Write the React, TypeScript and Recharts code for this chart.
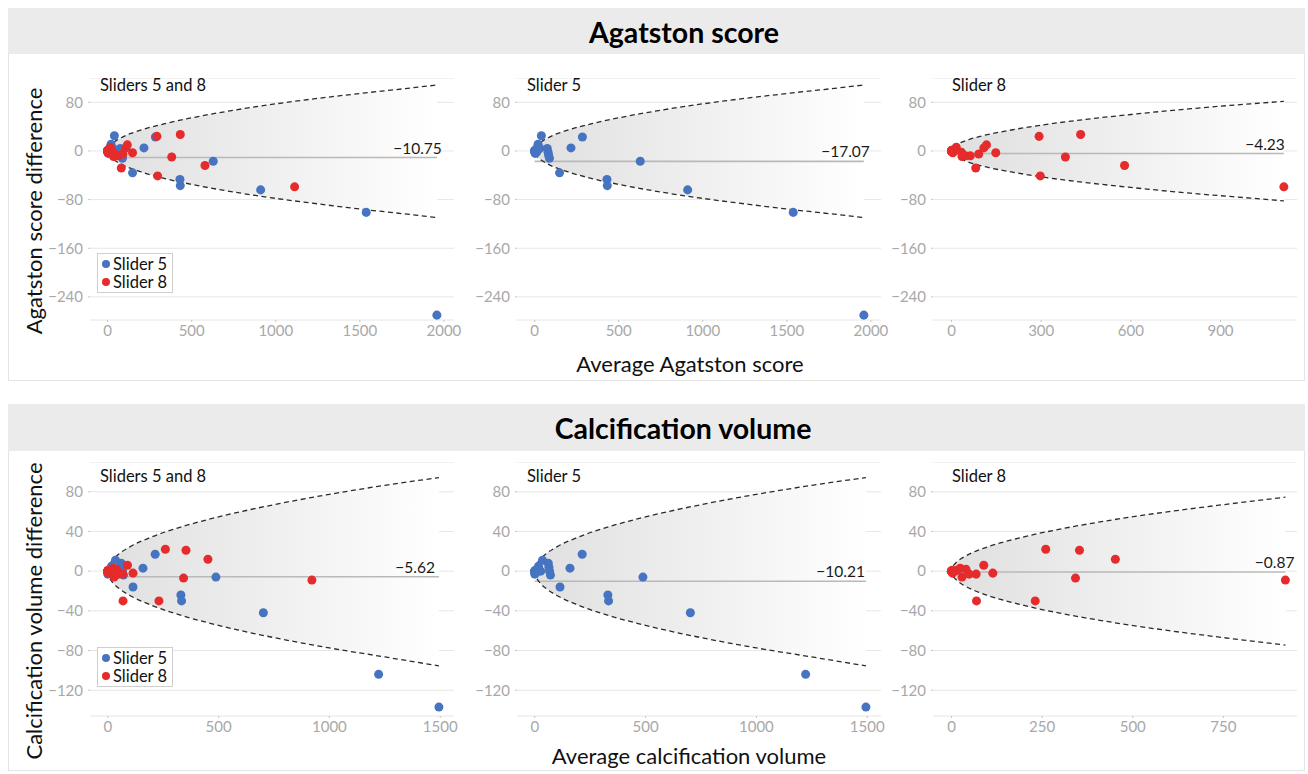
import React from "react";
import { ComposedChart, XAxis, YAxis, CartesianGrid, Area, Line, Scatter } from "recharts";

const FONT = "Lato, 'Noto Sans', sans-serif";
const BLUE = "#4674c1";
const RED = "#e52b2b";

type Pair = [number, number];

// ---- Agatston score: [average, difference] ----
const agatstonSlider5: Pair[] = [
  [0, 0], [0, 0], [0, 0], [0, 0], [0, 0], [0, 0], [1, -1], [2, 0], [3, -4], [5, -2], [6, 2], [8, 1],
  [12, -2], [18, 6], [20, 11], [30, 4], [40, 25], [75, 4], [80, -2], [83, -7], [88, -12],
  [148, -36], [216, 5], [284, 23], [430, -47], [432, -57], [628, -17], [910, -64], [1538, -101], [1958, -270],
];
const agatstonSlider8: Pair[] = [
  [0, 0], [0, 0], [0, 0], [0, 0], [0, 0], [0, 0], [0, 0], [1, 0], [2, -1], [3, 1], [6, -2], [0, 1],
  [4, -3], [16, 6], [33, -2], [35, -9], [47, -8], [63, -8], [81, -28], [91, -5], [108, 5], [117, 10],
  [148, -3], [293, 24], [297, -41], [381, -10], [432, 27], [579, -24], [1112, -59],
];

// ---- Calcification volume: [average, difference] ----
const volumeSlider5: Pair[] = [
  [0, 0], [0, 0], [0, 0], [0, 0], [0, 0], [0, -1], [0, -3], [2, 1], [4, -2], [10, 1], [17, 5], [27, 0],
  [35, 11], [61, 8], [64, 4], [67, 0], [71, -4], [114, -16], [159, 3], [214, 17], [330, -24], [333, -30],
  [488, -6], [702, -42], [1222, -104], [1494, -137],
];
const volumeSlider8: Pair[] = [
  [0, 0], [0, 0], [0, 0], [0, 0], [0, 0], [0, 0], [0, 0], [0, 0], [1, 0], [2, 1], [3, -2], [6, 0], [9, 0],
  [16, 1], [24, 3], [29, -6], [40, 2], [49, -3], [68, -3], [69, -30], [89, 6], [114, -2], [231, -30],
  [260, 22], [342, -7], [353, 21], [452, 12], [921, -9],
];

// ---- Limits of agreement curves ----
const agatstonLimitX = [3, 10, 25, 50, 100, 200, 350, 500, 750, 1000, 1250, 1500, 1750, 1958];
const agatstonUpper = [4, 7.5, 12, 17, 24.5, 34.5, 45.5, 54.5, 67, 77.5, 86.5, 94.5, 102, 108.5];
const agatstonLower = [-4, -7.5, -12, -17, -24.5, -34.5, -46, -55, -67.5, -78, -87, -95.5, -103, -109.5];

const agatston8LimitX = [30, 60, 100, 200, 300, 450, 600, 800, 1000, 1112];
const agatston8Upper = [13.5, 19, 24.5, 34.5, 42.5, 52, 60, 69.5, 77.5, 81.5];
const agatston8Lower = [-13.5, -19, -24.5, -34.5, -42.5, -52, -60, -69.5, -77.5, -82];

const volumeLimitX = [10, 25, 50, 100, 200, 350, 500, 750, 1000, 1250, 1494];
const volumeUpper = [7.7, 12.2, 17.3, 24.5, 34.6, 45.8, 54.7, 67, 77.4, 86.5, 94.3];
const volumeLower = [-7.7, -12.2, -17.3, -24.5, -34.6, -45.8, -54.7, -67, -77.4, -86.5, -95.5];

const volume8LimitX = [5, 15, 30, 60, 100, 200, 300, 450, 600, 750, 921];
const volume8Upper = [5.5, 9.5, 13.4, 19, 24.5, 34.6, 42.4, 52, 60, 67, 74.5];
const volume8Lower = [-5.5, -9.5, -13.4, -19, -24.5, -34.6, -42.4, -52, -60, -67, -74.5];

// ---- Means ----
const agatstonMeans = { both: -10.75, s5: -17.07, s8: -4.23 };
const volumeMeans = { both: -5.62, s5: -10.21, s8: -0.87 };

// ---- Ticks ----
const agatstonYTicks = [80, 0, -80, -160, -240];
const volumeYTicks = [80, 40, 0, -40, -80, -120];
const agatstonXTicks = [0, 500, 1000, 1500, 2000];
const agatston8XTicks = [0, 300, 600, 900];
const volumeXTicks = [0, 500, 1000, 1500];
const volume8XTicks = [0, 250, 500, 750];

const toPts = (arr: Pair[]) => arr.map(([x, y]) => ({ x, y }));
const toBand = (xs: number[], hi: number[], lo: number[]) =>
  xs.map((x, i) => ({ x, hi: hi[i], lo: lo[i], range: [lo[i], hi[i]] }));
const minus = (v: number) => (v < 0 ? "\u2212" + Math.abs(v) : String(v));
const fmtMean = (v: number) => (v < 0 ? "\u2212" + Math.abs(v).toFixed(2) : v.toFixed(2));

const YW = 60;
const XH = 30;
const PW = 364;
const RM = 22;

interface PanelProps {
  id: string;
  left: number;
  top: number;
  plotH: number;
  xDomain: [number, number];
  xTicks: number[];
  yDomain: [number, number];
  yTicks: number[];
  series: { pts: { x: number; y: number }[]; color: string }[];
  band: { x: number; hi: number; lo: number; range: number[] }[];
  mean: number;
  meanEnd: number;
  labelDx: number;
}

function Panel(p: PanelProps) {
  const meanData = [{ x: 0, y: p.mean }, { x: p.meanEnd, y: p.mean }];
  const labelData = [{ x: p.meanEnd, y: p.mean }];
  const tickStyle = { fill: "#a8a8a8", fontSize: 15, fontFamily: FONT };
  return (
    <div style={{ position: "absolute", left: p.left - YW, top: p.top }}>
      <ComposedChart width={YW + PW + RM} height={p.plotH + XH} margin={{ top: 0, right: RM, bottom: 0, left: 0 }}>
        <defs>
          <linearGradient id={p.id} x1="0" y1="0" x2="1" y2="0">
            <stop offset="0%" stopColor="#e0e0e0" />
            <stop offset="100%" stopColor="#ffffff" />
          </linearGradient>
        </defs>
        <CartesianGrid vertical={false} stroke="#e6e6e6" />
        <XAxis
          type="number"
          dataKey="x"
          domain={p.xDomain}
          ticks={p.xTicks}
          allowDataOverflow
          interval={0}
          axisLine={false}
          tickLine={{ stroke: "#c4c4c4" }}
          tickSize={2}
          tickMargin={3}
          height={XH}
          tick={tickStyle}
        />
        <YAxis
          type="number"
          domain={p.yDomain}
          ticks={p.yTicks}
          allowDataOverflow
          interval={0}
          axisLine={false}
          tickLine={{ stroke: "#c4c4c4" }}
          tickSize={2}
          tickMargin={5}
          width={YW}
          tickFormatter={minus}
          tick={tickStyle}
        />
        <Area data={p.band} dataKey="range" type="monotone" stroke="none" fill={`url(#${p.id})`} fillOpacity={1} isAnimationActive={false} />
        <Line data={meanData} dataKey="y" stroke="#b9b9b9" strokeWidth={1.6} dot={false} isAnimationActive={false} />
        <Line data={p.band} dataKey="hi" type="monotone" stroke="#2a2a2a" strokeWidth={1.3} strokeDasharray="5 3.5" dot={false} isAnimationActive={false} />
        <Line data={p.band} dataKey="lo" type="monotone" stroke="#2a2a2a" strokeWidth={1.3} strokeDasharray="5 3.5" dot={false} isAnimationActive={false} />
        {p.series.map((s, i) => (
          <Scatter key={i} data={s.pts} dataKey="y" fill={s.color} isAnimationActive={false} />
        ))}
        <Scatter
          data={labelData}
          dataKey="y"
          isAnimationActive={false}
          shape={(sp: any) => (
            <text x={sp.cx + p.labelDx} y={sp.cy - 4} textAnchor="end" fontSize={15.5} fill="#1a1a1a" fontFamily={FONT}>
              {fmtMean(p.mean)}
            </text>
          )}
        />
      </ComposedChart>
    </div>
  );
}

const abs = (l: number, t: number, extra: React.CSSProperties = {}): React.CSSProperties => ({
  position: "absolute",
  left: l,
  top: t,
  ...extra,
});

function Legend({ top }: { top: number }) {
  return (
    <div
      style={abs(97, top, {
        width: 76,
        height: 40,
        border: "1px solid #cfcfcf",
        background: "#fff",
        fontFamily: FONT,
        fontSize: 16.5,
        color: "#111",
        lineHeight: "18px",
        paddingTop: 1,
        boxSizing: "border-box",
      })}
    >
      {[
        ["Slider 5", BLUE],
        ["Slider 8", RED],
      ].map(([t, c]) => (
        <div key={t} style={{ display: "flex", alignItems: "center", paddingLeft: 4 }}>
          <span style={{ width: 8, height: 8, borderRadius: 4, background: c, display: "inline-block", marginRight: 3 }} />
          {t}
        </div>
      ))}
    </div>
  );
}

const TOP_ROW = 78;
const TOP_H = 242;
const BOT_ROW = 462;
const BOT_H = 254;
const COLS = [90, 517, 933];

export default function App() {
  const ag5 = toPts(agatstonSlider5);
  const ag8 = toPts(agatstonSlider8);
  const v5 = toPts(volumeSlider5);
  const v8 = toPts(volumeSlider8);
  const agBand = toBand(agatstonLimitX, agatstonUpper, agatstonLower);
  const ag8Band = toBand(agatston8LimitX, agatston8Upper, agatston8Lower);
  const vBand = toBand(volumeLimitX, volumeUpper, volumeLower);
  const v8Band = toBand(volume8LimitX, volume8Upper, volume8Lower);

  const agY: [number, number] = [-278, 120];
  const vY: [number, number] = [-146, 110];

  const panelTitle = (text: string, l: number, t: number) => (
    <div style={abs(l, t, { fontFamily: FONT, fontSize: 16.5, color: "#111", lineHeight: "18px", whiteSpace: "nowrap" })}>{text}</div>
  );
  const sectionTitle: React.CSSProperties = {
    width: 500,
    textAlign: "center",
    fontFamily: FONT,
    fontWeight: 700,
    fontSize: 28.5,
    lineHeight: "34px",
    color: "#000",
  };
  const axisTitle: React.CSSProperties = { fontFamily: FONT, fontSize: 22, color: "#111", whiteSpace: "nowrap" };

  return (
    <div style={{ position: "absolute", left: 0, top: 0, width: 1308, height: 774, background: "#fff", overflow: "hidden" }}>
      {/* Section boxes */}
      <div style={abs(8, 8, { width: 1297, height: 373, border: "1px solid #e4e4e4", boxSizing: "border-box" })} />
      <div style={abs(8, 8, { width: 1297, height: 46, background: "#ebebeb" })} />
      <div style={abs(8, 404, { width: 1297, height: 367, border: "1px solid #e4e4e4", boxSizing: "border-box" })} />
      <div style={abs(8, 404, { width: 1297, height: 47, background: "#ebebeb" })} />

      <div style={abs(434, 15, sectionTitle)}>Agatston score</div>
      <div style={abs(433, 411, sectionTitle)}>Calcification volume</div>

      {/* Top row */}
      <Panel id="g1" left={COLS[0]} top={TOP_ROW} plotH={TOP_H} xDomain={[-105, 2060]} xTicks={agatstonXTicks} yDomain={agY} yTicks={agatstonYTicks}
        series={[{ pts: ag5, color: BLUE }, { pts: ag8, color: RED }]} band={agBand} mean={agatstonMeans.both} meanEnd={1958} labelDx={5} />
      <Panel id="g2" left={COLS[1]} top={TOP_ROW} plotH={TOP_H} xDomain={[-105, 2060]} xTicks={agatstonXTicks} yDomain={agY} yTicks={agatstonYTicks}
        series={[{ pts: ag5, color: BLUE }]} band={agBand} mean={agatstonMeans.s5} meanEnd={1958} labelDx={6} />
      <Panel id="g3" left={COLS[2]} top={TOP_ROW} plotH={TOP_H} xDomain={[-62, 1156]} xTicks={agatston8XTicks} yDomain={agY} yTicks={agatstonYTicks}
        series={[{ pts: ag8, color: RED }]} band={ag8Band} mean={agatstonMeans.s8} meanEnd={1112} labelDx={1} />

      {/* Bottom row */}
      <Panel id="g4" left={COLS[0]} top={BOT_ROW} plotH={BOT_H} xDomain={[-80, 1562]} xTicks={volumeXTicks} yDomain={vY} yTicks={volumeYTicks}
        series={[{ pts: v5, color: BLUE }, { pts: v8, color: RED }]} band={vBand} mean={volumeMeans.both} meanEnd={1494} labelDx={-4} />
      <Panel id="g5" left={COLS[1]} top={BOT_ROW} plotH={BOT_H} xDomain={[-80, 1562]} xTicks={volumeXTicks} yDomain={vY} yTicks={volumeYTicks}
        series={[{ pts: v5, color: BLUE }]} band={vBand} mean={volumeMeans.s5} meanEnd={1494} labelDx={-1} />
      <Panel id="g6" left={COLS[2]} top={BOT_ROW} plotH={BOT_H} xDomain={[-51, 953]} xTicks={volume8XTicks} yDomain={vY} yTicks={volumeYTicks}
        series={[{ pts: v8, color: RED }]} band={v8Band} mean={volumeMeans.s8} meanEnd={921} labelDx={9} />

      {/* Panel titles */}
      {panelTitle("Sliders 5 and 8", 100, 76)}
      {panelTitle("Slider 5", 527, 76)}
      {panelTitle("Slider 8", 952, 76)}
      {panelTitle("Sliders 5 and 8", 100, 467)}
      {panelTitle("Slider 5", 527, 467)}
      {panelTitle("Slider 8", 952, 467)}

      <Legend top={253} />
      <Legend top={647} />

      {/* Axis titles */}
      <div style={abs(33, 211, { ...axisTitle, transform: "translate(-50%, -50%) rotate(-90deg)" })}>Agatston score difference</div>
      <div style={abs(33, 611, { ...axisTitle, transform: "translate(-50%, -50%) rotate(-90deg)" })}>Calcification volume difference</div>
      <div style={abs(690, 363, { ...axisTitle, transform: "translate(-50%, -50%)" })}>Average Agatston score</div>
      <div style={abs(689, 755, { ...axisTitle, transform: "translate(-50%, -50%)" })}>Average calcification volume</div>
    </div>
  );
}
